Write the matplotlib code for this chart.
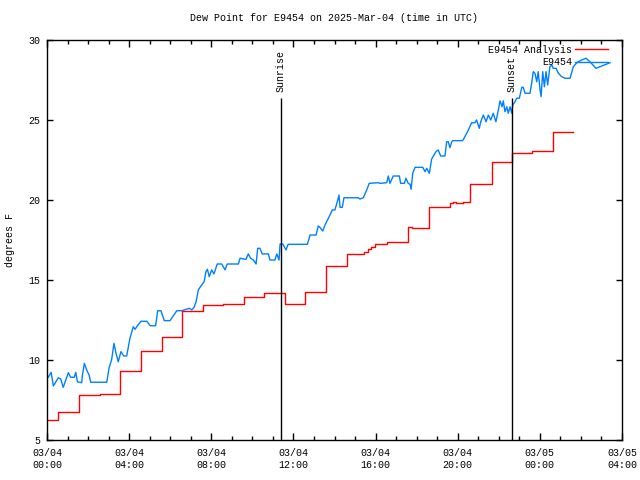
#!/usr/bin/env python3
"""Dew point chart for E9454, gnuplot look."""

import matplotlib
matplotlib.use("Agg")
import matplotlib.pyplot as plt
from matplotlib.ticker import MultipleLocator

TITLE = "Dew Point for E9454 on 2025-Mar-04 (time in UTC)"
STATION = "E9454"

# hours since 2025-03-04 00:00 UTC
ANALYSIS_HOURS = [0.05, 0.55, 1.57, 2.58, 3.57, 4.58, 5.60, 6.59, 7.58, 8.56,
                  9.59, 10.57, 11.61, 12.56, 13.59, 14.61, 15.45, 15.62, 15.80,
                  15.97, 16.57, 17.59, 17.77, 18.60, 19.61, 19.78, 19.91, 20.02,
                  20.27, 20.60, 21.65, 22.63, 23.60, 24.62, 25.63]
ANALYSIS_DEWPT = [6.25, 6.73, 7.81, 7.87, 9.29, 10.54, 11.42, 13.08, 13.42, 13.50,
                  13.92, 14.19, 13.50, 14.25, 15.88, 16.61, 16.75, 16.92, 17.08,
                  17.23, 17.39, 18.29, 18.23, 19.54, 19.79, 19.88, 19.79, 19.83,
                  19.88, 20.98, 22.36, 22.96, 23.06, 24.23, 24.23]

OBS_HOURS = [0.06, 0.20, 0.31, 0.39, 0.55, 0.67, 0.79, 1.04, 1.15, 1.33, 1.40, 1.48,
             1.69, 1.72, 1.82, 1.93, 2.05, 2.13, 2.91, 3.02, 3.15, 3.26, 3.36, 3.47,
             3.60, 3.74, 3.88, 4.04, 4.20, 4.29, 4.40, 4.58, 4.86, 5.03, 5.29, 5.39,
             5.55, 5.71, 5.99, 6.32, 6.56, 6.93, 7.05, 7.16, 7.26, 7.37, 7.53, 7.65,
             7.74, 7.81, 7.90, 8.02, 8.13, 8.29, 8.51, 8.67, 8.78, 9.32, 9.40, 9.69,
             9.80, 9.92, 10.05, 10.18, 10.26, 10.37, 10.48, 10.78, 10.86, 11.10, 11.19,
             11.30, 11.35, 11.48, 11.64, 11.74, 12.68, 12.81, 13.10, 13.21, 13.29,
             13.43, 13.54, 13.70, 13.82, 13.89, 14.02, 14.16, 14.22, 14.27, 14.38,
             14.46, 15.16, 15.24, 15.40, 15.57, 15.69, 16.13, 16.22, 16.54, 16.62,
             16.70, 16.86, 17.16, 17.22, 17.40, 17.48, 17.59, 17.68, 17.73, 17.81,
             17.92, 18.30, 18.41, 18.49, 18.62, 18.73, 18.94, 19.05, 19.17, 19.38,
             19.46, 19.54, 19.62, 19.71, 19.76, 20.24, 20.35, 20.52, 20.68, 20.84,
             20.92, 21.05, 21.12, 21.25, 21.38, 21.49, 21.61, 21.73, 21.86, 21.98,
             22.06, 22.16, 22.22, 22.30, 22.39, 22.46, 22.55, 22.63, 22.68, 22.79,
             22.87, 23.00, 23.12, 23.19, 23.28, 23.52, 23.60, 23.68, 23.76, 23.85,
             23.92, 24.01, 24.06, 24.14, 24.22, 24.30, 24.38, 24.49, 24.58, 24.65,
             24.79, 24.90, 25.06, 25.22, 25.47, 25.63, 25.82, 26.04, 26.25, 26.44,
             26.73, 27.42]
OBS_DEWPT = [8.92, 9.23, 8.38, 8.54, 8.89, 8.81, 8.29, 9.21, 8.92, 8.92, 9.23, 8.64,
             8.58, 9.00, 9.79, 9.38, 9.06, 8.61, 8.61, 9.48, 10.04, 11.04, 10.42, 9.89,
             10.52, 10.25, 10.25, 11.36, 12.08, 11.92, 12.14, 12.42, 12.42, 12.14,
             12.14, 13.08, 13.08, 12.46, 12.46, 13.08, 13.08, 13.23, 13.13, 13.29,
             13.64, 14.38, 14.69, 14.89, 15.52, 15.67, 15.21, 15.63, 15.38, 16.00,
             16.00, 15.63, 16.00, 16.00, 16.36, 16.29, 16.63, 16.36, 16.25, 16.00,
             16.98, 16.98, 16.63, 16.63, 16.25, 16.25, 16.63, 16.25, 17.25, 17.25,
             16.88, 17.23, 17.23, 17.81, 17.81, 18.38, 18.29, 18.06, 18.44, 18.86,
             19.17, 19.38, 19.38, 20.00, 20.31, 19.54, 19.54, 20.14, 20.14, 20.06,
             20.14, 20.63, 21.04, 21.08, 21.04, 21.08, 21.50, 21.04, 21.50, 21.50,
             21.04, 21.04, 21.36, 21.04, 20.98, 20.67, 21.67, 22.04, 22.04, 21.77,
             21.98, 21.67, 22.56, 23.02, 23.13, 22.75, 22.75, 23.64, 23.64, 23.27,
             23.64, 23.71, 23.71, 23.96, 24.38, 24.83, 24.83, 25.00, 24.48, 24.89,
             25.31, 24.89, 25.31, 25.00, 25.42, 24.89, 25.63, 26.20, 25.83, 26.20,
             25.52, 25.83, 25.42, 25.83, 25.42, 25.94, 26.14, 26.36, 26.36, 27.04,
             27.04, 26.67, 26.67, 27.29, 28.02, 27.92, 27.39, 28.02, 26.88, 26.46,
             28.02, 27.08, 28.02, 27.19, 28.33, 28.44, 28.23, 28.23, 27.92, 27.71,
             27.61, 27.61, 28.33, 28.61, 28.75, 28.86, 28.64, 28.23, 28.58]

SUN_EVENTS = ["Sunrise", "Sunset"]
SUN_HOURS = [11.39, 22.64]
SUN_LINE_TOP = 26.4

XTICK_HOURS = [0, 4, 8, 12, 16, 20, 24, 28]
XTICK_LABELS = ["03/04\n00:00", "03/04\n04:00", "03/04\n08:00", "03/04\n12:00",
                "03/04\n16:00", "03/04\n20:00", "03/05\n00:00", "03/05\n04:00"]

FONT = ["Liberation Mono", "DejaVu Sans Mono"]
FS = 7.2

plt.rcParams["font.family"] = FONT
plt.rcParams["font.size"] = FS

fig = plt.figure(figsize=(6.4, 4.8), dpi=100)
ax = fig.add_axes([47 / 640, 40 / 480, 575 / 640, 400 / 480])

ax.plot(ANALYSIS_HOURS, ANALYSIS_DEWPT, drawstyle="steps-post", color="#ff0000",
        linewidth=1.0, label=f"{STATION} Analysis")
ax.plot(OBS_HOURS, OBS_DEWPT, color="#0080ff", linewidth=1.0, label=STATION)

for name, h in zip(SUN_EVENTS, SUN_HOURS):
    ax.vlines(h, 5, SUN_LINE_TOP, color="black", linewidth=1.0)
    ax.text(h, SUN_LINE_TOP + 0.35, name, rotation=90, ha="center", va="bottom",
            fontsize=FS)

ax.set_xlim(0, 28)
ax.set_ylim(5, 30)
ax.set_xticks(XTICK_HOURS)
ax.set_xticklabels(XTICK_LABELS)
ax.xaxis.set_minor_locator(MultipleLocator(1))
ax.set_yticks([5, 10, 15, 20, 25, 30])
ax.tick_params(which="both", direction="in", top=True, right=True, width=1.0)
ax.tick_params(axis="x", which="major", length=5, pad=6)
ax.tick_params(axis="x", which="minor", length=3)
ax.tick_params(axis="y", which="major", length=4, pad=5)
for s in ax.spines.values():
    s.set_linewidth(1.0)

ax.set_title(TITLE, fontsize=FS, pad=14)
fig.text(10 / 640, 0.5, "degrees F", rotation=90, ha="center", va="center",
         fontsize=FS)

ax.legend(loc="upper right", bbox_to_anchor=(1 - 9 / 575, 1), frameon=False,
          markerfirst=False, handlelength=3.3, handletextpad=0.3,
          labelspacing=0.25, borderaxespad=0.3, borderpad=0.2, fontsize=FS)

fig.savefig("out.png", dpi=100)
